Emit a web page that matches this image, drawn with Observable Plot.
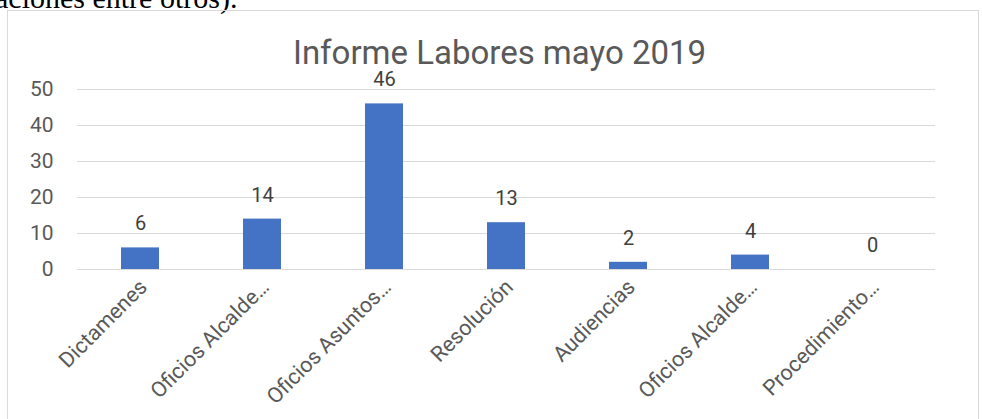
<!DOCTYPE html>
<html>
<head>
<meta charset="utf-8">
<script src="https://cdn.jsdelivr.net/npm/d3@7"></script>
<script src="https://cdn.jsdelivr.net/npm/@observablehq/plot@0.6"></script>
<style>
  html, body { margin: 0; padding: 0; background: #fff; overflow: hidden; }
  #wrap { position: relative; width: 982px; height: 419px; }
  #above { position: absolute; left: -5px; top: -17px; font-family: "Liberation Serif", "DejaVu Serif", serif; font-size: 30px; line-height: 30px; color: #000; white-space: nowrap; }
  #frame { position: absolute; left: 7px; top: 10px; width: 972px; height: 420px; border: 1px solid #d9d9d9; box-sizing: border-box; pointer-events: none; }
  #chart { position: absolute; left: 0; top: 0; }
</style>
</head>
<body>
<div id="wrap">
  <div id="above">aciones entre otros).</div>
  <div id="frame"></div>
  <div id="chart"></div>
</div>
<script>
const title = "Informe Labores mayo 2019";
const categories = ["Dictamenes", "Oficios Alcalde…", "Oficios Asuntos…", "Resolución", "Audiencias", "Oficios Alcalde…", "Procedimiento…"];
const values = [6, 14, 46, 13, 2, 4, 0];
const yTicks = [0, 10, 20, 30, 40, 50];

const data = categories.map((c, i) => ({i, label: c, value: values[i]}));
const font = "Roboto, 'Open Sans', sans-serif";

const chart = Plot.plot({
  width: 982,
  height: 419,
  marginLeft: 77,
  marginRight: 47,
  marginTop: 89,
  marginBottom: 150,
  style: {fontFamily: font, background: "transparent"},
  x: {domain: d3.range(categories.length), paddingInner: 0.69, paddingOuter: 0.345, align: 0.5, label: null},
  y: {domain: [0, 50], label: null},
  marks: [
    Plot.gridY(yTicks, {stroke: "#d9d9d9", strokeOpacity: 1, strokeWidth: 1}),
    Plot.axisY(yTicks, {tickSize: 0, tickPadding: 24, fontSize: 21, fill: "#595959", label: null}),
    Plot.axisX({tickSize: 0, tickPadding: 14, dx: 3, tickRotate: -45, fontSize: 21.5, fill: "#595959", label: null, tickFormat: i => categories[i]}),
    Plot.barY(data, {x: "i", y: "value", fill: "#4472c4"}),
    Plot.text(data, {x: "i", y: "value", text: d => String(d.value), dy: -24, fontSize: 20, fill: "#404040"}),
    Plot.text([title], {frameAnchor: "top", lineAnchor: "bottom", dy: -26, dx: -7, fontSize: 33, fill: "#595959"})
  ]
});
document.getElementById("chart").appendChild(chart);
</script>
</body>
</html>
